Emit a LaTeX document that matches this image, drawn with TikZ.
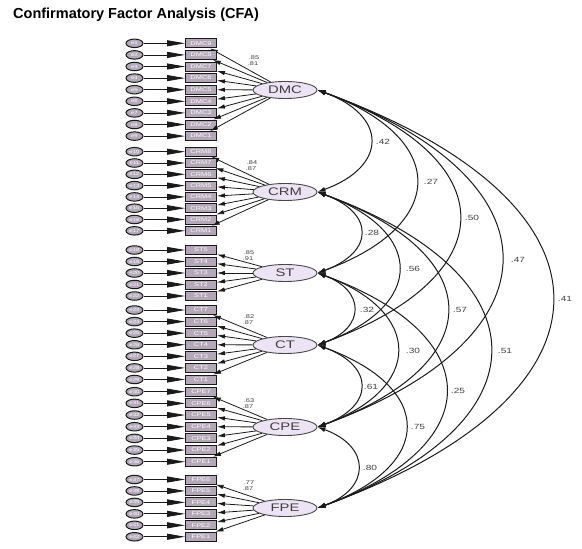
\documentclass[tikz,border=0pt]{standalone}
\usepackage{fontspec}
\setmainfont{Liberation Sans}
\usetikzlibrary{shapes.geometric,arrows.meta}
\definecolor{latfill}{HTML}{ECE3F5}
\definecolor{errfill}{HTML}{B3A9B9}
\definecolor{boxfill}{HTML}{B3A7B8}
\definecolor{ink}{HTML}{1A1A1A}
\definecolor{txt}{HTML}{404040}
\newcommand\hstretch[1]{\scalebox{1.35}[1]{#1}}
\newcommand\covpath[3]{\draw[covar] (#1.east) .. controls +({0.9397*#3},{0.342*#3}) and +({0.9397*#3},{-0.342*#3}) .. (#2.east);}
\tikzset{
  latent/.style={ellipse,draw=ink!80,line width=0.9pt,fill=latfill,minimum width=64pt,minimum height=17pt,inner sep=0pt,font=\fontsize{11}{11}\selectfont,text=txt},
  ind/.style={rectangle,draw=ink,line width=0.9pt,fill=boxfill,minimum width=31pt,minimum height=9pt,inner sep=0pt,font=\fontsize{5.5}{5.5}\selectfont,text=white},
  err/.style={ellipse,draw=ink,line width=1pt,fill=errfill,minimum width=17pt,minimum height=8.5pt,inner sep=0pt,font=\fontsize{4.5}{4.5}\selectfont,text=white},
  errarr/.style={draw=ink,line width=0.8pt,-{Triangle[length=18pt,width=6pt]}},
  load/.style={draw=ink,line width=0.8pt,-{Latex[length=8pt,width=4.5pt]}},
  covar/.style={draw=ink,line width=1pt,{Latex[length=8pt,width=5pt]}-{Latex[length=8pt,width=5pt]}},
  covlab/.style={font=\fontsize{7.5}{7.5}\selectfont,text=txt,inner sep=0pt},
  loadlab/.style={font=\fontsize{5.5}{5.5}\selectfont,text=txt,inner sep=0pt},
}
\begin{document}
\begin{tikzpicture}[x=1pt,y=-1pt]
\useasboundingbox (0,0) rectangle (582,549);
\node[anchor=base west,inner sep=0pt,font=\bfseries\fontsize{14.5}{15}\selectfont] (title) at (13,18.5) {Confirmatory Factor Analysis (CFA)};
% latent factors
\node[latent] (DMC) at (285,90) {\hstretch{DMC}};
\node[latent] (CRM) at (285,192) {\hstretch{CRM}};
\node[latent] (ST) at (285,273) {\hstretch{ST}};
\node[latent] (CT) at (285,345) {\hstretch{CT}};
\node[latent] (CPE) at (285,427) {\hstretch{CPE}};
\node[latent] (FPE) at (285,508) {\hstretch{FPE}};
% indicators and errors
\foreach \g/\n/\top/\sp/\off in {DMC/9/43.3/11.6/0, CRM/8/151.7/11.3/9, ST/5/250/11.5/17, CT/7/310/11.58/22, CPE/7/391.7/11.67/29, FPE/6/479.5/11.45/36}{
  \foreach \i in {1,...,\n}{
    \pgfmathsetmacro\yy{\top+(\i-1)*\sp}
    \pgfmathtruncatemacro\lab{\n-\i+1}
    \pgfmathtruncatemacro\en{\off+\i}
    \node[ind] (\g-\i) at (201,\yy) {\hstretch{\g\lab}};
    \node[err] (e\en) at (134.5,\yy) {\hstretch{e\en}};
    \draw[errarr] (e\en) -- (\g-\i);
    \draw[load] (\g) -- (\g-\i);
  }
}
% loading labels
\node[loadlab] (l1) at (254,58) {\hstretch{.85}};
\node[loadlab] (l2) at (253,64) {\hstretch{.81}};
\node[loadlab] (l3) at (252,163) {\hstretch{.84}};
\node[loadlab] (l4) at (251,169) {\hstretch{.87}};
\node[loadlab] (l5) at (249,253) {\hstretch{.85}};
\node[loadlab] (l6) at (248,259) {\hstretch{.91}};
\node[loadlab] (l7) at (249,317) {\hstretch{.82}};
\node[loadlab] (l8) at (248,323) {\hstretch{.87}};
\node[loadlab] (l9) at (249,401) {\hstretch{.63}};
\node[loadlab] (l10) at (248,407) {\hstretch{.87}};
\node[loadlab] (l11) at (249,483) {\hstretch{.77}};
\node[loadlab] (l12) at (248,489) {\hstretch{.87}};
% covariances
\covpath{DMC}{CRM}{75}
\covpath{DMC}{ST}{140}
\covpath{DMC}{CT}{201}
\covpath{DMC}{CPE}{261}
\covpath{DMC}{FPE}{333}
\covpath{CRM}{ST}{61}
\covpath{CRM}{CT}{115}
\covpath{CRM}{CPE}{184}
\covpath{CRM}{FPE}{245}
\covpath{ST}{CT}{51}
\covpath{ST}{CPE}{113}
\covpath{ST}{FPE}{182}
\covpath{CT}{CPE}{61}
\covpath{CT}{FPE}{125}
\covpath{CPE}{FPE}{57}
% covariance labels
\node[covlab] (c1) at (383,142) {\hstretch{.42}};
\node[covlab] (c2) at (431,182) {\hstretch{.27}};
\node[covlab] (c3) at (472,218) {\hstretch{.50}};
\node[covlab] (c4) at (518,260) {\hstretch{.47}};
\node[covlab] (c5) at (565,299) {\hstretch{.41}};
\node[covlab] (c6) at (372,233) {\hstretch{.28}};
\node[covlab] (c7) at (413,269) {\hstretch{.56}};
\node[covlab] (c8) at (460,310) {\hstretch{.57}};
\node[covlab] (c9) at (505,351) {\hstretch{.51}};
\node[covlab] (c10) at (367,310) {\hstretch{.32}};
\node[covlab] (c11) at (413,351) {\hstretch{.30}};
\node[covlab] (c12) at (458,391) {\hstretch{.25}};
\node[covlab] (c13) at (371,387) {\hstretch{.61}};
\node[covlab] (c14) at (418,427) {\hstretch{.75}};
\node[covlab] (c15) at (370,468) {\hstretch{.80}};
\end{tikzpicture}
\end{document}
